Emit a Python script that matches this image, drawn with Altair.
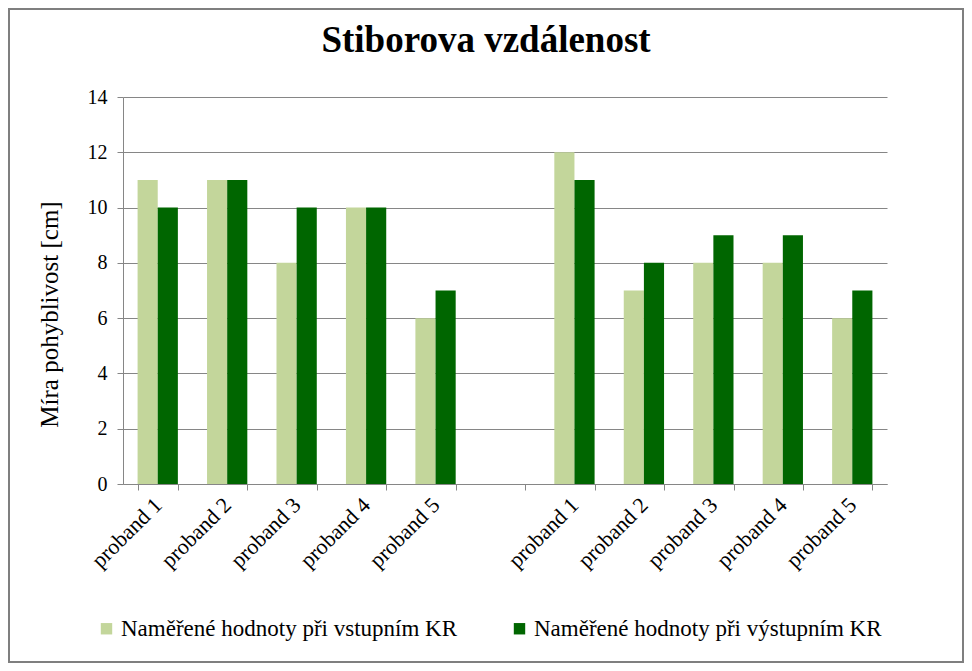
import altair as alt
import pandas as pd

# ---- data ----
probands = ["proband 1", "proband 2", "proband 3", "proband 4", "proband 5"]
series_names = ["Naměřené hodnoty při vstupním KR", "Naměřené hodnoty při výstupním KR"]
group1_vstup = [11, 11, 8, 10, 6]
group1_vystup = [10, 11, 10, 10, 7]
group2_vstup = [12, 7, 8, 8, 6]
group2_vystup = [11, 8, 9, 9, 7]
y_ticks = [0, 2, 4, 6, 8, 10, 12, 14]
colors = ["#C3D69B", "#006600"]

slots = [f"1|{p}" for p in probands] + ["gap"] + [f"2|{p}" for p in probands]

rows = []
for p, a, b in zip(probands, group1_vstup, group1_vystup):
    rows.append({"slot": f"1|{p}", "series": series_names[0], "value": a})
    rows.append({"slot": f"1|{p}", "series": series_names[1], "value": b})
for p, a, b in zip(probands, group2_vstup, group2_vystup):
    rows.append({"slot": f"2|{p}", "series": series_names[0], "value": a})
    rows.append({"slot": f"2|{p}", "series": series_names[1], "value": b})
df = pd.DataFrame(rows)

FONT = "Liberation Serif, Times New Roman, serif"
W, H = 764, 387
PAD = {"left": 115, "top": 89, "right": 77, "bottom": 179}

bars = alt.Chart(df).mark_bar().encode(
    x=alt.X(
        "slot:N",
        scale=alt.Scale(domain=slots, paddingInner=0.42, paddingOuter=0.21),
        axis=alt.Axis(
            title=None,
            labelExpr="indexof(datum.label,'|')>=0 ? split(datum.label,'|')[1] : ''",
            labelAngle=-45,
            labelAlign="right",
            labelBaseline="middle",
            labelFont=FONT,
            labelFontSize=22,
            labelColor="black",
            labelPadding=11,
            tickBand="extent",
            tickSize=6,
            tickColor="#868686",
            domainColor="#868686",
            labelOverlap=False,
        ),
    ),
    xOffset=alt.XOffset("series:N", sort=series_names),
    y=alt.Y(
        "value:Q",
        scale=alt.Scale(domain=[0, 14], nice=False),
        axis=alt.Axis(
            title="Míra pohyblivost [cm]",
            values=y_ticks,
            titleFont=FONT,
            titleFontSize=25,
            titleFontWeight="normal",
            titleColor="black",
            titlePadding=25,
            titleY=217,
            labelFont=FONT,
            labelFontSize=20,
            labelColor="black",
            labelPadding=10,
            tickSize=6,
            tickColor="#868686",
            domainColor="#868686",
            gridColor="#868686",
            gridWidth=1,
        ),
    ),
    color=alt.Color(
        "series:N",
        scale=alt.Scale(domain=series_names, range=colors),
        legend=alt.Legend(
            title=None,
            orient="none",
            legendX=-28,
            legendY=520,
            direction="horizontal",
            symbolType="square",
            symbolSize=130,
            symbolStrokeWidth=0,
            labelFont=FONT,
            labelFontSize=23,
            labelColor="black",
            labelLimit=400,
            columnPadding=50,
            labelOffset=3,
        ),
    ),
)

frame = alt.Chart(pd.DataFrame({"a": [0]})).mark_rect(
    filled=False, stroke="#7f7f7f", strokeWidth=2
).encode(
    x=alt.value(-PAD["left"] + 1),
    x2=alt.value(W + PAD["right"] - 1),
    y=alt.value(-PAD["top"] + 1),
    y2=alt.value(H + PAD["bottom"] - 1),
)

chart = alt.layer(bars, frame).properties(
    width=W,
    height=H,
    padding=PAD,
    autosize=alt.AutoSizeParams(type="none"),
    title=alt.TitleParams(
        "Stiborova vzdálenost",
        font=FONT,
        fontSize=37,
        fontWeight="bold",
        color="black",
        anchor="middle",
        frame="group",
        baseline="alphabetic",
        dx=-19,
        dy=38,
        offset=-43,
    ),
).configure_view(stroke=None).configure_axis(grid=False).configure_axisY(grid=True)

chart.save("out.html", embed_options={"renderer": "svg", "actions": False})
